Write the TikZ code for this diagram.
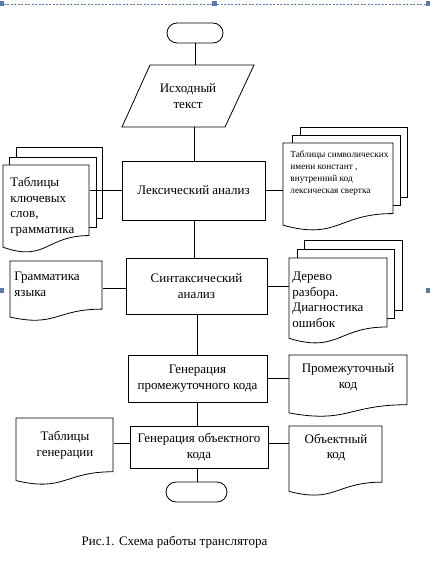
\documentclass[tikz,border=0pt]{standalone}
\usepackage{fontspec}
\setmainfont{Liberation Serif}
\newfontfamily\tnr{Liberation Serif}
\definecolor{handle}{RGB}{90,122,170}
\newcommand{\docnode}[5]{% #1 name, #2 left, #3 top, #4 right, #5 height
  \filldraw[fill=white] (#2,#3) -- (#4,#3) -- (#4,{#3+0.802*#5})
    .. controls ({(#2+#4)/2},{#3+0.802*#5}) and ({(#2+#4)/2},{#3+1.107*#5}) .. (#2,{#3+0.934*#5}) -- cycle;
  \node[inner sep=0, minimum width={(#4-#2)*1pt}, minimum height={0.802*#5*1pt}, anchor=north west] (#1) at (#2,#3) {};
}
\newcommand{\layer}[4]{\filldraw[fill=white] (#1,#2) rectangle (#3,#4);}
\begin{document}
\begin{tikzpicture}[x=1pt,y=-1pt,line width=0.8pt,
  txt/.style={font=\tnr\fontsize{13}{15.5}\selectfont, inner sep=0},
  smalltxt/.style={font=\tnr\fontsize{9.3}{12}\selectfont, inner sep=0},
  proc/.style={draw, fill=white, inner sep=0, align=center, font=\tnr\fontsize{13}{15.5}\selectfont},
  term/.style={draw, fill=white, rounded corners=10pt, inner sep=0},
  conn/.style={draw, line width=0.8pt},
  hbox/.style={fill=handle, draw=none}]
\useasboundingbox (0,0) rectangle (430,572);

% selection frame
\draw[handle, dashed, line width=0.7pt, dash pattern=on 2pt off 1.5pt] (0,4.5) -- (430,4.5);
\fill[hbox] (0,1) rectangle (3.5,6);
\fill[hbox] (212,1) rectangle (217,6);
\fill[hbox] (426,1) rectangle (430,6);
\fill[hbox] (0,288) rectangle (3.5,293);
\fill[hbox] (426,288) rectangle (429.5,293);

% main column
\node[term, minimum width=56pt, minimum height=20pt] (start) at (195,33) {};
\filldraw[fill=white] (150,65) -- (254,65) -- (225,127) -- (122,127) -- cycle;
\node[txt, align=center, minimum width=104pt, minimum height=62pt] (src) at (188,96) {Исходный\\текст};
\node[proc, minimum width=143pt, minimum height=59pt] (lex) at (193.5,190.5) {Лексический анализ};
\node[proc, minimum width=141pt, minimum height=56pt] (syn) at (196.5,286) {Синтаксический\\анализ};
\node[proc, minimum width=139pt, minimum height=47pt] (gen) at (197.5,378.5) {Генерация\\промежуточного кода};
\node[proc, minimum width=138pt, minimum height=42pt] (obj) at (199,447) {Генерация объектного\\кода};
\node[term, minimum width=61pt, minimum height=20pt] (end) at (196.5,492) {};

\draw[conn] (start.south) -- (start.south |- src.north);
\draw[conn] (lex.north -| 194,0) -- (194,127);
\draw[conn] (194,220) -- (syn.north -| 194,0);
\draw[conn] (gen.north -| 197,0) -- (197,314);
\draw[conn] (197,402) -- (obj.north -| 197,0);
\draw[conn] (197,468) -- (end.north -| 197,0);

% left stack (lexical)
\layer{16}{147}{102}{218}
\layer{9}{157}{96}{227}
\docnode{kwdoc}{3}{165}{89}{88}
\node[txt, align=left, anchor=west] at (10,206.5) {Таблицы\\ключевых\\слов,\\грамматика};
\draw[conn] (lex.west) -- (lex.west -| kwdoc.east);

% right stack (lexical)
\layer{300}{127}{407}{197}
\layer{292}{135}{400}{205}
\docnode{symdoc}{283}{143}{393}{88}
\node[smalltxt, align=left, anchor=west] at (290,173) {Таблицы символических\\имени констант ,\\внутренний код\\лексическая свертка};
\draw[conn] (lex.east) -- (lex.east -| symdoc.west);

% grammar doc
\docnode{gramdoc}{10}{261}{102}{60}
\node[txt, align=left, anchor=west] at (14,284.5) {Грамматика\\языка};
\draw[conn] ([yshift=-2pt]syn.west) -- ([yshift=-2pt]syn.west -| gramdoc.east);

% tree stack
\layer{304}{240}{402}{310}
\layer{297}{249}{394}{318}
\docnode{treedoc}{289}{258}{387}{86}
\node[txt, align=left, anchor=west] at (292,300) {Дерево\\разбора.\\Диагностика\\ошибок};
\draw[conn] (syn.east) -- (syn.east -| treedoc.west);

% intermediate code doc
\docnode{interdoc}{289}{355}{407}{62}
\node[txt, align=center] at (348,377.5) {Промежуточный\\код};
\draw[conn] (gen.east) -- (gen.east -| interdoc.west);

% generation tables doc
\docnode{tabdoc}{16}{418}{113}{67}
\node[txt, align=center] at (65,445) {Таблицы\\генерации};
\draw[conn] ([yshift=4pt]obj.west) -- ([yshift=4pt]obj.west -| tabdoc.east);

% object code doc
\docnode{objdoc}{289}{426}{382}{70}
\node[txt, align=center] at (336,447.5) {Объектный\\код};
\draw[conn] ([yshift=4pt]obj.east) -- ([yshift=4pt]obj.east -| objdoc.west);

% caption
\node[txt] (cap) at (174.5,542) {Рис.1. Схема работы транслятора};
\end{tikzpicture}
\end{document}
